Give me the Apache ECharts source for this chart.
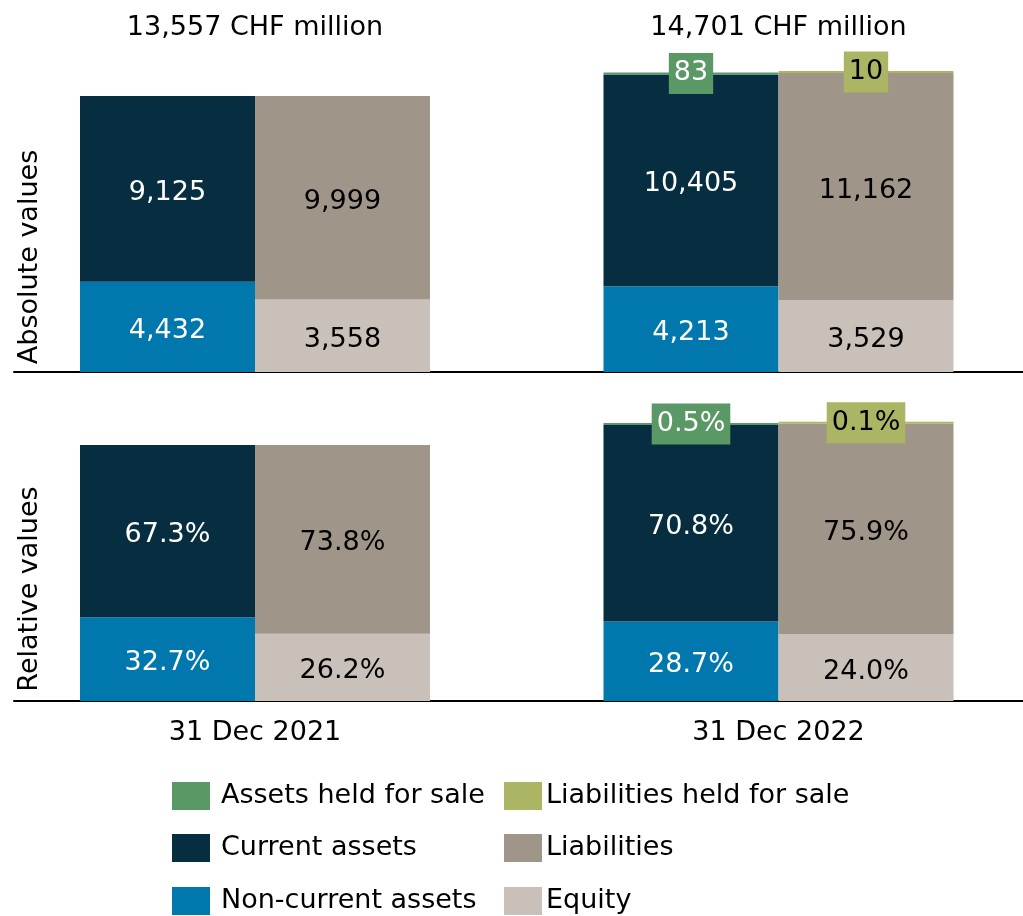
<!DOCTYPE html>
<html>
<head>
    <meta charset="utf-8">
    <title>Balance sheet structure</title>
    <script type="text/javascript" src="https://cdn.jsdelivr.net/npm/echarts@6/dist/echarts.min.js"></script>
    <style>
        html, body { margin: 0; padding: 0; background: #fff; }
    </style>
</head>
<body>
<div id="chartmain" style="width:1023px; height:916px;"></div>
<script type="text/javascript">
// categories and values (CHF million)
var categories = ['31 Dec 2021', '31 Dec 2022'];
var totals = [13557, 14701];

var nonCurrentAssets = [4432, 4213];
var currentAssets = [9125, 10405];
var assetsHeldForSale = [null, 83];
var equity = [3558, 3529];
var liabilities = [9999, 11162];
var liabilitiesHeldForSale = [null, 10];

// relative values (%)
var nonCurrentAssetsPct = [32.7, 28.7];
var currentAssetsPct = [67.3, 70.8];
var assetsHeldForSalePct = [null, 0.5];
var equityPct = [26.2, 24.0];
var liabilitiesPct = [73.8, 75.9];
var liabilitiesHeldForSalePct = [null, 0.1];

var colors = {
    'Assets held for sale': '#5a9866',
    'Liabilities held for sale': '#abb564',
    'Current assets': '#072d41',
    'Liabilities': '#9f9589',
    'Non-current assets': '#0078ae',
    'Equity': '#c8c0b9'
};

var font = 'DejaVu Sans';
var fs = 27;

function fmt(v) {
    return v.toLocaleString('en-US');
}

// one bar series; panel 0 = absolute, panel 1 = relative
function bar(name, data, stack, panel, textColor, pct, boxed) {
    var s = {
        name: name,
        type: 'bar',
        stack: stack + panel,
        xAxisIndex: panel,
        yAxisIndex: panel,
        data: data,
        barWidth: 175,
        barGap: '0%',
        itemStyle: { color: colors[name] },
        label: {
            show: true,
            position: 'inside',
            offset: [0, 4],
            color: textColor,
            fontFamily: font,
            fontSize: fs,
            formatter: function (p) {
                if (panel === 1) return pct[p.dataIndex].toFixed(1) + '%';
                return fmt(p.value);
            }
        },
        emphasis: { disabled: true }
    };
    if (boxed) {
        s.barMinHeight = 2;
        s.label.offset = [0, 0];
        s.label.backgroundColor = colors[name];
        s.label.padding = [7, 5, 7, 5];
    }
    return s;
}

var series = [];
for (var k = 0; k < 2; k++) {
    series.push(bar('Non-current assets', nonCurrentAssets, 'a', k, '#fff', nonCurrentAssetsPct));
    series.push(bar('Current assets', currentAssets, 'a', k, '#fff', currentAssetsPct));
    series.push(bar('Assets held for sale', assetsHeldForSale, 'a', k, '#fff', assetsHeldForSalePct, true));
    series.push(bar('Equity', equity, 'l', k, '#000', equityPct));
    series.push(bar('Liabilities', liabilities, 'l', k, '#000', liabilitiesPct));
    series.push(bar('Liabilities held for sale', liabilitiesHeldForSale, 'l', k, '#000', liabilitiesHeldForSalePct, true));
}

// legend: two columns, three rows
var legendCols = [
    ['Assets held for sale', 'Current assets', 'Non-current assets'],
    ['Liabilities held for sale', 'Liabilities', 'Equity']
];
var legendLeft = [172, 504];
var legendTop = [782, 834, 887];
var legends = [];
legendCols.forEach(function (col, c) {
    col.forEach(function (name, r) {
        legends.push({
            left: legendLeft[c], top: legendTop[r], padding: 0,
            itemWidth: 38, itemHeight: 28, icon: 'rect',
            selectedMode: false,
            textStyle: { color: '#000', fontSize: fs, fontFamily: font, padding: [3, 0, 0, c === 0 ? 6 : -1] },
            data: [name]
        });
    });
});

var hidden = { show: false };

var option = {
    animation: false,
    textStyle: { fontFamily: font },
    grid: [
        { left: -6.75, right: -17.25, top: 66.6, bottom: 544, outerBoundsMode: 'none' },
        { left: -6.75, right: -17.25, top: 417.8, bottom: 215, outerBoundsMode: 'none' },
        // grids that only carry the base lines
        { left: 14, right: 0, top: 300, bottom: 544, outerBoundsMode: 'none' },
        { left: 14, right: 0, top: 650, bottom: 215, outerBoundsMode: 'none' }
    ],
    xAxis: [
        { type: 'category', gridIndex: 0, data: categories, axisLine: hidden, axisTick: hidden, axisLabel: hidden },
        {
            type: 'category', gridIndex: 1, data: categories,
            axisLine: hidden, axisTick: hidden,
            axisLabel: { color: '#000', fontSize: fs, fontFamily: font, margin: 18 }
        },
        {
            type: 'category', gridIndex: 2, data: [''],
            axisLine: { lineStyle: { color: '#000', width: 2 } },
            axisTick: hidden, axisLabel: hidden
        },
        {
            type: 'category', gridIndex: 3, data: [''],
            axisLine: { lineStyle: { color: '#000', width: 2 } },
            axisTick: hidden, axisLabel: hidden
        },
        // totals above the top panel
        {
            type: 'category', gridIndex: 0, position: 'top', data: categories,
            axisLine: hidden, axisTick: hidden,
            axisLabel: {
                color: '#000', fontSize: fs, fontFamily: font, margin: 25,
                formatter: function (v, i) { return fmt(totals[i]) + ' CHF million'; }
            }
        }
    ],
    yAxis: [
        { type: 'value', gridIndex: 0, min: 0, max: 15000, show: false },
        { type: 'value', gridIndex: 1, min: 0, max: 15000, show: false },
        { type: 'value', gridIndex: 2, show: false },
        { type: 'value', gridIndex: 3, show: false }
    ],
    legend: legends,
    graphic: [
        {
            type: 'text', x: 30, y: 257, rotation: Math.PI / 2,
            style: { text: 'Absolute values', fontSize: fs, fontFamily: font, fill: '#000', align: 'center', verticalAlign: 'middle' }
        },
        {
            type: 'text', x: 30, y: 589, rotation: Math.PI / 2,
            style: { text: 'Relative values', fontSize: fs, fontFamily: font, fill: '#000', align: 'center', verticalAlign: 'middle' }
        }
    ],
    series: series
};

var myChart = echarts.init(document.getElementById('chartmain'));
myChart.setOption(option);
</script>
</body>
</html>
